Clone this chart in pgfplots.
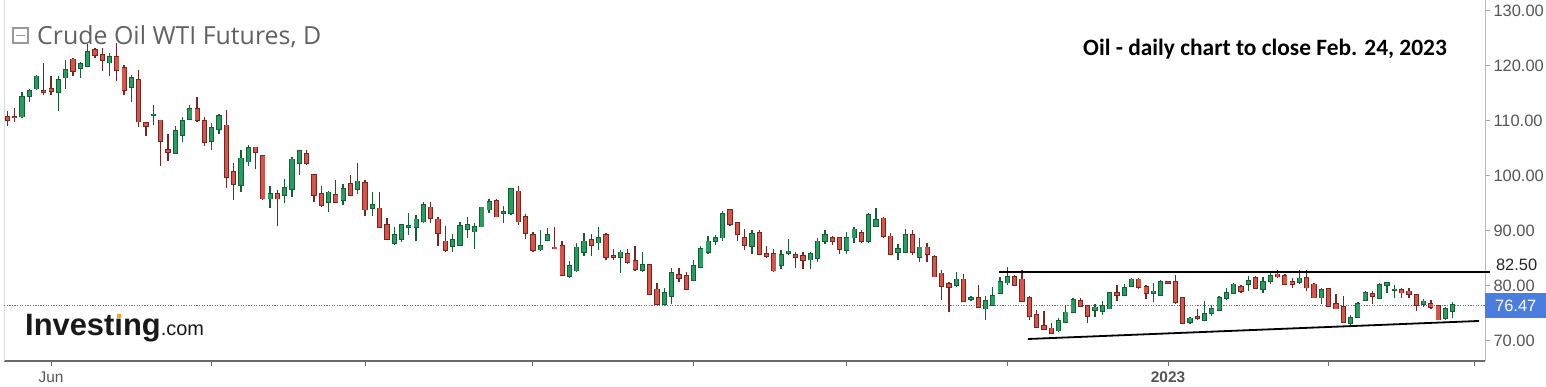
\documentclass[border=0pt]{standalone}
\usepackage{pgfplots}
\pgfplotsset{compat=1.18}
\usepackage{pgfplotstable}
\usepackage{fontspec}
\setmainfont{Liberation Sans}
\newfontfamily\titlefont{Open Sans}
\newfontfamily\notefont{Carlito}
\definecolor{upfill}{RGB}{38,158,96}
\definecolor{upline}{RGB}{22,92,52}
\definecolor{dnfill}{RGB}{216,84,72}
\definecolor{dnline}{RGB}{118,38,32}
\definecolor{axgray}{RGB}{105,105,105}
\definecolor{lblgray}{RGB}{85,85,85}
\definecolor{pblue}{RGB}{74,125,222}
\definecolor{dotblue}{RGB}{70,110,240}
\definecolor{logoorange}{RGB}{244,166,32}

\pgfplotstableread{
i o h l c
2 110.8 115.3 110.5 114.4
3 114.5 115.9 113.5 115.5
4 115.9 118.4 115.6 118.1
7 115.2 118.1 111.9 117.5
8 117.9 121.0 115.9 119.3
10 119.6 120.8 117.8 120.4
11 120.0 124.0 119.9 122.6
14 120.6 122.4 118.1 121.6
17 116.2 118.4 113.5 117.9
20 111.0 112.9 109.3 111.2
23 104.1 109.0 104.0 108.2
24 107.5 110.8 106.1 110.0
25 110.3 112.9 110.1 112.2
28 106.4 109.6 104.8 108.8
29 108.5 111.3 107.6 110.9
32 98.4 104.8 97.0 103.2
33 102.6 105.6 101.8 105.1
36 95.9 98.2 94.1 96.7
38 96.5 99.4 95.0 97.9
39 97.6 103.4 96.1 103.0
40 102.3 104.8 100.2 104.6
44 95.3 97.2 93.5 97.0
46 95.6 98.5 94.7 97.6
48 97.6 102.4 96.7 99.0
50 94.1 97.0 92.7 94.7
53 87.8 90.8 87.5 89.3
54 88.5 91.2 88.0 91.1
55 90.7 93.2 89.3 90.9
56 90.7 92.9 88.1 92.1
57 91.7 95.3 91.4 94.7
61 87.2 89.5 86.2 88.4
62 87.5 91.7 87.3 90.9
63 90.3 92.5 88.7 91.1
64 89.9 91.5 86.8 90.7
65 90.8 94.4 90.7 94.3
66 93.9 95.9 93.2 95.3
68 93.2 94.5 91.5 93.5
69 93.2 97.8 92.9 97.6
73 86.6 90.2 86.3 87.3
74 88.4 90.5 88.1 89.3
77 81.8 84.6 81.4 83.6
78 82.8 87.8 82.6 87.0
79 86.2 89.6 85.5 88.1
81 87.9 90.7 86.5 88.7
84 85.3 86.5 82.4 86.1
87 82.9 86.2 82.6 83.8
90 76.7 79.6 76.5 78.8
91 78.2 83.2 76.7 82.4
94 81.1 84.8 81.0 83.6
95 83.4 87.2 83.2 86.7
96 86.2 89.0 85.8 88.1
97 88.2 89.3 87.5 88.7
98 88.8 93.7 88.2 93.1
102 87.3 90.1 85.8 89.5
106 83.8 86.5 83.0 85.6
107 86.0 88.5 85.6 86.3
110 84.8 86.2 83.0 85.8
111 85.0 88.7 84.4 88.1
112 88.2 90.1 87.6 89.3
115 86.5 89.9 85.9 88.7
116 88.8 90.8 87.9 90.3
118 88.1 93.2 87.9 92.9
119 90.9 94.1 90.7 92.0
122 86.1 87.6 84.8 86.7
123 86.2 90.3 86.1 89.3
125 85.3 88.7 84.4 87.0
130 80.2 82.6 79.9 81.2
132 77.6 78.2 77.3 77.9
134 75.9 78.1 73.8 77.3
135 76.5 79.9 76.4 78.2
136 78.7 81.6 78.5 80.8
137 80.6 83.5 80.2 81.6
144 71.9 74.1 71.7 73.7
145 73.5 76.5 73.3 75.2
146 75.2 77.9 75.0 77.5
149 75.6 76.7 74.3 76.1
150 75.5 77.2 74.7 76.4
151 75.9 78.8 75.8 78.7
153 78.4 80.4 78.2 79.6
154 80.0 81.4 79.9 81.2
157 78.7 80.5 77.0 79.0
158 78.4 81.0 78.2 80.8
162 73.5 74.3 73.1 74.1
164 73.8 77.2 73.7 74.9
165 75.0 76.4 74.5 75.8
166 75.6 78.1 75.5 77.8
167 77.8 79.7 77.5 78.8
168 78.7 80.5 78.5 80.3
170 80.3 81.9 79.1 80.9
172 79.5 81.7 78.7 80.8
173 80.9 82.3 80.3 81.9
177 80.7 82.9 80.3 81.4
180 77.9 79.7 76.7 79.3
184 73.2 74.8 72.6 74.2
185 74.3 77.0 74.2 76.8
186 77.5 79.0 77.3 78.8
188 77.8 80.6 77.6 80.2
189 80.2 80.8 78.8 80.5
190 79.2 80.2 77.8 79.4
194 76.7 77.6 76.2 77.2
197 74.1 76.1 73.8 75.9
198 75.5 77.0 74.1 76.5
}\uptab

\pgfplotstableread{
i o h l c
0 110.8 111.9 109.1 110.2
1 110.8 112.3 109.9 110.6
5 115.5 120.5 114.7 115.2
6 115.8 118.2 114.7 115.5
9 121.2 121.4 118.1 119.0
12 122.9 123.2 121.4 122.0
13 122.0 123.2 119.0 121.1
15 121.6 124.2 117.2 119.2
16 119.6 120.2 114.7 115.6
18 117.5 119.3 108.9 109.9
19 109.6 109.7 107.3 109.1
21 110.1 110.2 101.8 106.4
22 104.8 107.6 102.8 104.4
26 112.2 114.4 109.9 110.1
27 110.0 110.8 105.5 106.1
30 109.2 112.0 97.8 99.8
31 100.7 102.4 95.6 98.5
34 105.2 105.3 101.2 104.4
35 103.7 103.8 95.6 95.9
37 96.8 97.5 90.9 95.9
41 104.0 104.8 102.0 102.4
42 100.2 100.4 95.2 96.5
43 96.8 98.2 94.4 94.7
45 96.5 99.3 95.0 95.2
47 98.5 100.2 96.4 96.5
49 98.8 99.2 92.7 93.9
51 94.1 97.0 90.6 90.7
52 91.1 92.3 88.4 88.5
58 94.3 95.2 91.5 92.3
59 92.1 92.6 87.2 89.6
60 88.1 90.9 86.1 86.5
67 95.5 95.8 92.5 92.6
70 97.2 98.1 91.1 91.7
71 92.6 93.1 88.5 89.6
72 89.3 89.9 86.2 86.5
75 87.0 90.7 86.7 86.8
76 87.3 88.1 81.8 82.0
80 88.4 89.5 85.5 87.5
82 89.3 89.6 84.8 85.2
83 85.5 86.7 84.8 85.2
85 85.9 86.8 84.0 84.4
86 84.5 87.2 82.8 83.0
88 83.8 84.0 78.4 78.5
89 79.4 80.5 76.5 76.7
92 82.0 83.2 80.8 81.4
93 81.8 82.6 79.3 79.4
99 93.8 93.9 90.9 91.3
100 91.5 91.7 88.2 89.5
101 88.8 90.3 86.5 87.5
103 89.6 90.1 85.6 85.8
104 85.9 87.3 85.0 85.5
105 85.9 86.7 82.6 82.8
108 85.6 86.2 83.2 85.2
109 85.5 86.2 83.0 84.7
113 88.8 89.0 87.5 88.1
114 88.7 88.8 85.8 86.7
117 89.6 90.1 87.9 88.2
120 92.3 92.5 88.7 89.0
121 89.0 89.6 85.6 85.8
124 89.3 90.1 85.6 86.1
126 87.0 87.9 84.4 85.8
127 85.3 85.6 81.6 81.7
128 82.3 82.9 77.5 80.0
129 80.4 80.7 75.3 79.8
131 81.2 82.2 77.0 77.2
133 77.8 80.2 76.1 76.2
138 81.6 82.0 80.0 80.2
139 81.2 82.9 77.0 77.2
140 77.8 78.1 73.8 74.5
141 74.7 75.6 72.3 72.5
142 72.7 75.5 72.0 72.1
143 72.3 73.2 71.4 71.5
147 77.3 77.8 76.2 76.4
148 76.4 76.5 73.3 74.5
152 78.7 80.2 77.2 78.4
155 81.2 81.4 79.4 79.8
156 79.9 80.2 77.6 78.7
159 80.7 80.8 80.4 80.5
160 80.8 82.0 76.8 77.0
161 77.8 77.9 73.2 73.3
163 74.4 75.8 73.8 74.1
169 79.9 80.1 78.8 79.0
171 81.5 81.9 79.5 79.6
174 82.1 82.9 81.4 81.7
175 81.9 82.1 80.1 80.3
176 80.7 81.5 79.7 80.3
178 81.5 82.9 79.1 79.7
179 80.3 80.5 77.8 77.9
181 79.5 79.7 76.2 76.4
182 76.8 78.5 75.8 75.9
183 76.2 78.2 73.4 73.5
187 78.5 79.0 76.7 78.2
191 79.3 79.6 77.8 78.8
192 79.0 79.6 77.9 78.5
193 78.4 78.5 75.5 76.5
195 76.8 77.5 75.9 76.1
196 76.4 76.5 73.8 73.9
}\dntab

\pgfplotsset{
  candle/.style n args={2}{draw=none, no markers,
    error bars/.cd, y dir=plus, y explicit, error mark=none,
    error bar style={line width=#1, draw=#2, solid}},
}

\begin{document}
\begin{tikzpicture}
\path[use as bounding box] (0bp,0bp) rectangle (1546bp,387bp);
\begin{axis}[
  at={(4bp,26bp)}, anchor=south west,
  scale only axis, width=1481bp, height=361bp,
  xmin=-0.452, xmax=202.42, ymin=66.36, ymax=132.0,
  clip=false,
  axis x line*=bottom, axis y line*=right,
  x axis line style={draw=axgray, line width=1.2bp, -},
  y axis line style={draw=gray!55, line width=1bp, -},
  tick align=outside,
  major tick length=5bp,
  xtick={6,28,49,72,94,115,137,159,181,201},
  xticklabels={Jun,,,,,,,\textbf{2023},,},
  ytick={70,80,90,100,110,120,130},
  yticklabels={70.00,80.00,90.00,100.00,110.00,120.00,130.00},
  x tick style={draw=axgray, line width=1bp},
  y tick style={draw=gray!70, line width=1bp},
  xticklabel style={font=\fontsize{15.5}{17}\selectfont, text=lblgray, yshift=-2bp},
  yticklabel style={font=\fontsize{16.5}{18}\selectfont, text=lblgray},
]
\draw[gray!30, line width=1bp] (rel axis cs:0,0) -- (rel axis cs:0,1);
% dotted last-price line
\addplot[dotblue, line width=1.1bp, dash pattern=on 1.3bp off 1.3bp] coordinates {(-0.452,76.47) (202.42,76.47)};
% wicks
\addplot[candle={1.3bp}{upline}] table[x=i, y=l, y error expr=\thisrow{h}-\thisrow{l}] {\uptab};
\addplot[candle={1.3bp}{dnline}] table[x=i, y=l, y error expr=\thisrow{h}-\thisrow{l}] {\dntab};
% bodies: outline
\addplot[candle={5.2bp}{upline}] table[x=i, y expr=\thisrow{o}-0.14, y error expr=\thisrow{c}-\thisrow{o}+0.28] {\uptab};
\addplot[candle={5.2bp}{dnline}] table[x=i, y expr=\thisrow{c}-0.14, y error expr=\thisrow{o}-\thisrow{c}+0.28] {\dntab};
% bodies: fill
\addplot[candle={3.4bp}{upfill}] table[x=i, y=o, y error expr=\thisrow{c}-\thisrow{o}] {\uptab};
\addplot[candle={3.4bp}{dnfill}] table[x=i, y=c, y error expr=\thisrow{o}-\thisrow{c}] {\dntab};
% resistance and trend lines
\addplot[black, line width=1.8bp] coordinates {(135.9,82.5) (203.1,82.5)};
\addplot[black, line width=1.8bp] coordinates {(139.8,70.36) (201.6,73.64)};
% price labels
\node[fill=pblue, text=white, anchor=west, minimum height=25bp, minimum width=61bp, inner sep=0pt,
  font=\fontsize{16.5}{18}\selectfont] at (axis cs:202.42,76.47) {76.47};
\node[text=black!85, anchor=west, inner sep=0pt,
  font=\fontsize{16.5}{18}\selectfont] at (axis cs:203.9,82.5) [yshift=7bp] {82.50};
\end{axis}
% title with icon
\draw[gray!80, line width=1.2bp] (13bp,344bp) rectangle (28bp,359bp);
\draw[gray!80, line width=1.2bp] (16bp,351.5bp) -- (25bp,351.5bp);
\node[anchor=base west, inner sep=0pt, text=black!62] at (37bp,342bp)
  {\titlefont\fontsize{25}{28}\selectfont Crude Oil WTI Futures, D};
% annotation
\node[anchor=base west, inner sep=0pt, text=black] at (1083bp,331bp)
  {\notefont\bfseries\fontsize{23.5}{26}\selectfont Oil - daily chart to close Feb. 24, 2023};
% logo
\node[anchor=base west, inner sep=0pt, text=black!90] at (25bp,51bp)
  {\fontsize{31}{32}\selectfont\bfseries Invest\rlap{\kern0.07em\textcolor{logoorange}{\rule[0.59em]{0.14em}{0.13em}}}ıng{\fontsize{20}{22}\selectfont\mdseries .com}};
\end{tikzpicture}
\end{document}
